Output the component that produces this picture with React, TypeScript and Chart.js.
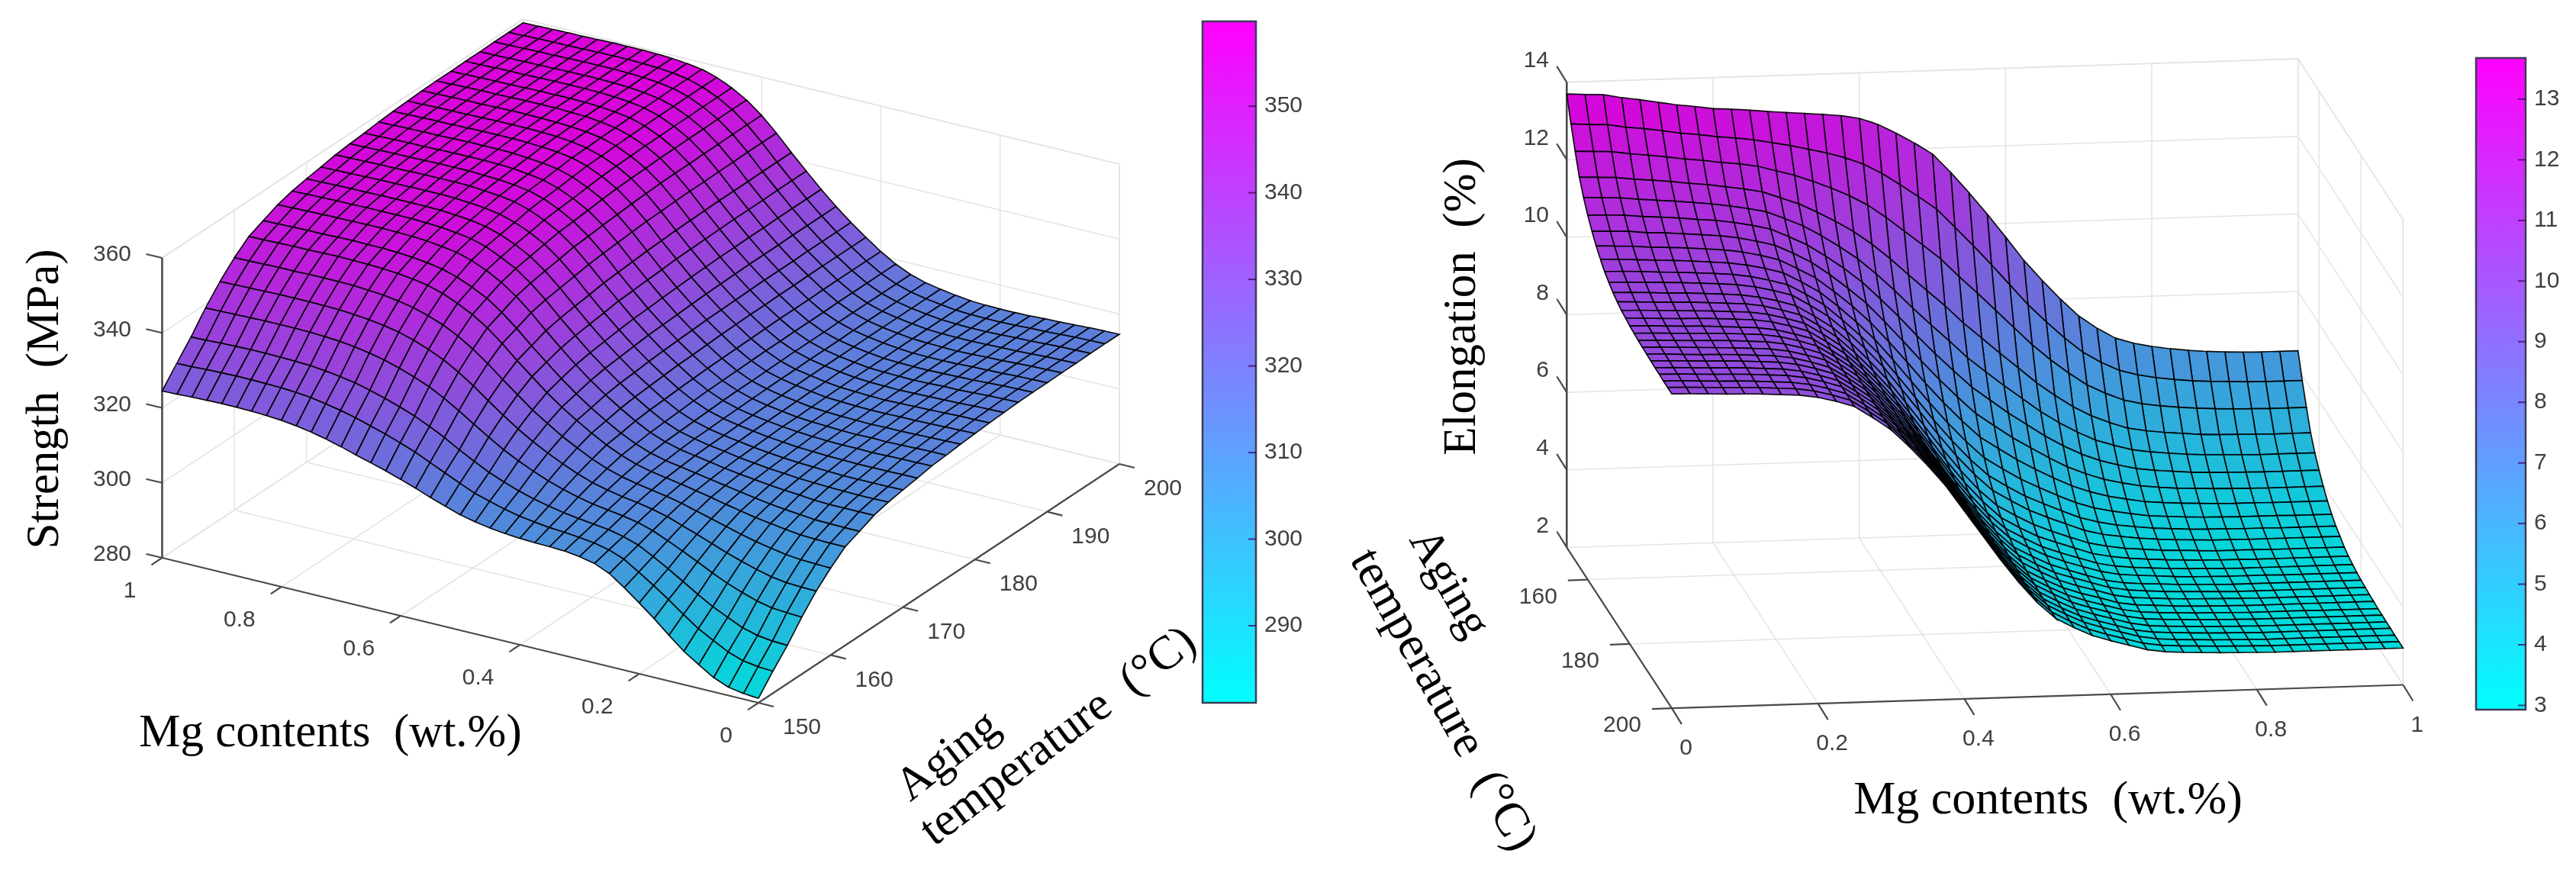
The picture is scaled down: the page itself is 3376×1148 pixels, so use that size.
import React, { useEffect, useRef } from "react";
import { Chart, registerables } from "chart.js";

Chart.register(...registerables);

// ---- values ----
const mgContents = [0,0.025,0.05,0.075,0.1,0.125,0.15,0.175,0.2,0.225,0.25,0.275,0.3,0.325,0.35,0.375,0.4,0.425,0.45,0.475,0.5,0.525,0.55,0.575,0.6,0.625,0.65,0.675,0.7,0.725,0.75,0.775,0.8,0.825,0.85,0.875,0.9,0.925,0.95,0.975,1];
const agingTemps = [150,152,154,156,158,160,162,164,166,168,170,172,174,176,178,180,182,184,186,188,190,192,194,196,198,200];

// one row per aging temperature, one column per Mg content
const strengthByTemp = [
[281.2,281.5,282.2,283.8,286.3,288.9,292.2,295.7,298.9,302.0,304.8,306.5,307.4,307.9,308.1,308.2,308.4,308.7,309.2,309.9,310.8,312.1,313.5,315.0,316.4,317.7,318.9,320.0,321.2,322.3,323.2,323.9,324.4,324.7,324.9,325.0,325.0,324.9,324.8,324.6,324.5],
[285.9,286.1,286.7,288.1,290.2,292.4,295.2,298.2,301.0,303.6,306.1,307.6,308.5,309.0,309.4,309.7,310.2,310.8,311.7,312.8,314.0,315.7,317.5,319.3,321.1,322.6,324.0,325.2,326.4,327.4,328.2,328.9,329.3,329.6,329.7,329.8,329.8,329.7,329.6,329.4,329.3],
[290.2,290.4,290.9,292.0,293.8,295.7,298.0,300.5,302.9,305.2,307.3,308.6,309.5,310.0,310.5,311.1,311.9,312.8,314.0,315.4,317.0,319.0,321.1,323.4,325.4,327.2,328.7,330.0,331.2,332.2,332.9,333.5,333.9,334.1,334.2,334.3,334.3,334.2,334.1,333.9,333.8],
[295.2,295.4,295.7,296.6,297.9,299.4,301.2,303.2,305.1,306.9,308.6,309.8,310.6,311.2,311.8,312.7,313.8,315.1,316.7,318.5,320.5,322.9,325.4,328.0,330.4,332.5,334.1,335.5,336.7,337.6,338.3,338.8,339.1,339.3,339.4,339.4,339.4,339.3,339.2,339.1,339.0],
[299.6,299.7,299.9,300.5,301.5,302.7,304.0,305.5,307.0,308.4,309.8,310.8,311.6,312.2,313.0,314.0,315.4,317.1,319.0,321.1,323.5,326.2,329.1,332.1,334.8,337.1,338.9,340.4,341.6,342.4,343.0,343.4,343.7,343.8,343.9,343.9,343.9,343.8,343.7,343.6,343.5],
[303.2,303.3,303.5,303.9,304.6,305.4,306.4,307.5,308.6,309.7,310.8,311.7,312.4,313.1,314.0,315.2,316.8,318.8,320.9,323.4,326.0,329.1,332.2,335.5,338.4,340.9,342.9,344.4,345.6,346.4,347.0,347.3,347.6,347.7,347.7,347.7,347.6,347.6,347.5,347.4,347.3],
[306.3,306.3,306.4,306.6,307.1,307.7,308.3,309.1,309.9,310.8,311.6,312.4,313.1,313.8,314.8,316.2,318.0,320.2,322.6,325.2,328.1,331.4,334.7,338.3,341.5,344.1,346.1,347.8,349.0,349.7,350.2,350.5,350.7,350.8,350.9,350.8,350.7,350.7,350.6,350.5,350.4],
[307.9,307.9,308.0,308.1,308.5,308.9,309.4,310.0,310.7,311.4,312.1,312.8,313.5,314.2,315.2,316.7,318.6,320.9,323.4,326.2,329.3,332.7,336.1,339.8,343.1,345.9,347.9,349.6,350.8,351.5,352.0,352.3,352.5,352.5,352.6,352.5,352.4,352.4,352.3,352.2,352.1],
[309.6,309.6,309.6,309.6,309.8,310.2,310.5,310.9,311.4,311.9,312.5,313.2,313.9,314.6,315.7,317.2,319.3,321.7,324.3,327.2,330.4,333.9,337.6,341.4,344.8,347.6,349.8,351.5,352.7,353.3,353.8,354.1,354.2,354.3,354.3,354.2,354.2,354.1,354.0,353.9,353.8],
[310.6,310.5,310.5,310.6,310.7,310.9,311.1,311.5,311.8,312.3,312.8,313.5,314.1,314.9,315.9,317.5,319.7,322.2,324.9,327.9,331.1,334.7,338.4,342.3,345.8,348.7,350.8,352.6,353.8,354.4,354.9,355.1,355.3,355.3,355.3,355.3,355.2,355.2,355.1,355.0,354.9],
[311.3,311.2,311.2,311.2,311.2,311.4,311.6,311.8,312.1,312.5,313.0,313.6,314.2,315.0,316.1,317.7,319.9,322.5,325.2,328.3,331.6,335.2,339.0,342.9,346.5,349.4,351.6,353.3,354.5,355.2,355.6,355.9,356.0,356.0,356.0,356.0,355.9,355.9,355.8,355.7,355.6],
[311.9,311.9,311.8,311.8,311.8,311.9,312.0,312.2,312.4,312.8,313.2,313.8,314.4,315.2,316.3,318.0,320.2,322.8,325.6,328.7,332.1,335.7,339.5,343.5,347.1,350.1,352.3,354.0,355.2,355.9,356.3,356.6,356.7,356.7,356.7,356.6,356.6,356.5,356.4,356.3,356.2],
[312.6,312.5,312.5,312.4,312.3,312.4,312.4,312.5,312.7,313.0,313.4,313.9,314.5,315.3,316.5,318.2,320.4,323.1,325.9,329.1,332.5,336.3,340.1,344.1,347.8,350.8,353.0,354.8,356.0,356.6,357.0,357.3,357.4,357.4,357.4,357.3,357.2,357.2,357.1,357.0,356.9],
[312.9,312.9,312.8,312.7,312.6,312.7,312.6,312.7,312.9,313.1,313.4,314.0,314.6,315.4,316.6,318.3,320.6,323.2,326.1,329.3,332.7,336.5,340.4,344.5,348.1,351.1,353.4,355.2,356.4,357.0,357.4,357.6,357.8,357.8,357.8,357.7,357.6,357.6,357.5,357.4,357.3],
[313.3,313.2,313.1,313.0,312.9,312.9,312.8,312.9,313.0,313.2,313.5,314.1,314.7,315.5,316.6,318.4,320.7,323.4,326.3,329.5,333.0,336.8,340.7,344.8,348.5,351.5,353.7,355.5,356.7,357.3,357.8,358.0,358.1,358.1,358.1,358.0,357.9,357.9,357.8,357.7,357.6],
[313.6,313.5,313.4,313.3,313.2,313.2,313.1,313.1,313.2,313.4,313.6,314.2,314.8,315.6,316.7,318.5,320.8,323.6,326.5,329.7,333.2,337.0,341.0,345.1,348.8,351.9,354.1,355.9,357.1,357.7,358.1,358.4,358.5,358.5,358.5,358.4,358.3,358.3,358.2,358.1,358.0],
[313.9,313.8,313.8,313.6,313.5,313.4,313.3,313.2,313.3,313.5,313.7,314.2,314.9,315.6,316.8,318.6,320.9,323.7,326.6,329.9,333.4,337.3,341.2,345.4,349.1,352.2,354.5,356.3,357.5,358.1,358.5,358.7,358.8,358.8,358.8,358.7,358.6,358.6,358.5,358.4,358.3],
[314.1,314.0,313.9,313.7,313.6,313.5,313.4,313.3,313.4,313.5,313.8,314.3,314.9,315.7,316.9,318.6,321.0,323.8,326.7,330.0,333.6,337.4,341.4,345.5,349.3,352.4,354.7,356.4,357.6,358.3,358.7,358.9,359.0,359.0,359.0,358.9,358.8,358.8,358.7,358.6,358.5],
[314.3,314.2,314.1,313.9,313.7,313.7,313.5,313.4,313.5,313.6,313.8,314.3,314.9,315.7,316.9,318.7,321.1,323.8,326.8,330.1,333.7,337.5,341.5,345.7,349.5,352.5,354.8,356.6,357.8,358.4,358.8,359.0,359.1,359.2,359.2,359.1,359.0,359.0,358.9,358.8,358.7],
[314.4,314.3,314.2,314.0,313.8,313.7,313.6,313.5,313.5,313.6,313.8,314.3,314.9,315.7,316.9,318.7,321.1,323.9,326.9,330.2,333.7,337.6,341.6,345.8,349.6,352.7,355.0,356.7,357.9,358.5,359.0,359.1,359.3,359.3,359.3,359.2,359.1,359.1,359.0,358.9,358.8],
[314.4,314.3,314.2,314.0,313.9,313.8,313.6,313.5,313.5,313.6,313.9,314.4,315.0,315.8,317.0,318.7,321.1,323.9,326.9,330.2,333.8,337.7,341.7,345.8,349.6,352.7,355.0,356.8,358.0,358.6,359.0,359.2,359.3,359.3,359.3,359.2,359.1,359.1,359.0,358.9,358.8],
[314.5,314.4,314.3,314.1,313.9,313.8,313.6,313.5,313.6,313.7,313.9,314.4,315.0,315.8,317.0,318.8,321.2,324.0,326.9,330.2,333.8,337.7,341.7,345.9,349.7,352.8,355.1,356.9,358.1,358.7,359.1,359.3,359.4,359.4,359.4,359.3,359.2,359.2,359.1,359.0,358.9],
[314.5,314.4,314.3,314.1,313.9,313.8,313.7,313.6,313.6,313.7,313.9,314.4,315.0,315.8,317.0,318.8,321.2,324.0,327.0,330.3,333.9,337.7,341.7,345.9,349.7,352.8,355.1,356.9,358.1,358.7,359.1,359.3,359.4,359.4,359.4,359.3,359.2,359.2,359.1,359.0,358.9],
[314.6,314.5,314.4,314.2,314.0,313.9,313.7,313.6,313.6,313.7,313.9,314.4,315.0,315.8,317.0,318.8,321.2,324.0,327.0,330.3,333.9,337.8,341.8,346.0,349.8,352.9,355.2,357.0,358.2,358.8,359.2,359.4,359.5,359.5,359.5,359.4,359.3,359.3,359.2,359.1,359.0],
[314.6,314.5,314.4,314.2,314.0,313.9,313.7,313.6,313.6,313.7,313.9,314.4,315.0,315.8,317.0,318.8,321.2,324.0,327.0,330.3,333.9,337.8,341.8,346.0,349.8,352.9,355.2,357.0,358.2,358.8,359.2,359.4,359.5,359.5,359.5,359.4,359.3,359.3,359.2,359.1,359.0],
[314.6,314.5,314.4,314.2,314.0,313.9,313.7,313.6,313.6,313.7,313.9,314.4,315.0,315.8,317.0,318.8,321.2,324.0,327.0,330.3,333.9,337.8,341.8,346.0,349.8,352.9,355.2,357.0,358.2,358.8,359.2,359.4,359.5,359.5,359.5,359.4,359.3,359.3,359.2,359.1,359.0],
];

const elongationByTemp = [
[13.70,13.67,13.65,13.56,13.49,13.41,13.33,13.27,13.20,13.17,13.13,13.08,13.04,13.00,12.96,12.91,12.83,12.66,12.42,12.15,11.85,11.36,10.82,10.25,9.65,9.03,8.50,8.00,7.55,7.22,6.95,6.80,6.70,6.63,6.57,6.53,6.50,6.48,6.47,6.47,6.47],
[13.09,13.06,13.04,12.96,12.91,12.84,12.76,12.71,12.64,12.59,12.53,12.44,12.35,12.24,12.13,11.99,11.81,11.56,11.25,10.93,10.59,10.11,9.62,9.11,8.58,8.05,7.59,7.16,6.78,6.50,6.28,6.15,6.06,6.00,5.95,5.92,5.90,5.88,5.87,5.87,5.87],
[12.55,12.53,12.51,12.44,12.39,12.33,12.26,12.21,12.14,12.09,12.01,11.88,11.75,11.58,11.39,11.18,10.92,10.59,10.22,9.85,9.47,9.00,8.56,8.10,7.64,7.18,6.78,6.42,6.10,5.87,5.68,5.57,5.50,5.45,5.41,5.38,5.36,5.35,5.34,5.34,5.34],
[12.05,12.03,12.01,11.95,11.91,11.86,11.80,11.75,11.68,11.61,11.52,11.35,11.18,10.95,10.70,10.42,10.08,9.69,9.26,8.84,8.43,7.97,7.57,7.16,6.77,6.37,6.03,5.72,5.47,5.28,5.12,5.04,4.98,4.94,4.90,4.88,4.87,4.86,4.85,4.85,4.85],
[11.69,11.67,11.65,11.60,11.56,11.52,11.47,11.42,11.35,11.27,11.17,10.98,10.78,10.51,10.21,9.88,9.48,9.04,8.57,8.12,7.69,7.24,6.86,6.49,6.14,5.79,5.49,5.23,5.01,4.86,4.73,4.66,4.61,4.57,4.54,4.53,4.51,4.50,4.50,4.50,4.50],
[11.40,11.39,11.37,11.32,11.29,11.25,11.20,11.16,11.09,11.00,10.89,10.68,10.45,10.15,9.82,9.45,9.00,8.53,8.02,7.54,7.09,6.65,6.30,5.95,5.64,5.33,5.06,4.83,4.65,4.52,4.41,4.35,4.31,4.27,4.25,4.24,4.23,4.22,4.22,4.22,4.22],
[11.15,11.14,11.12,11.07,11.05,11.01,10.97,10.93,10.86,10.76,10.64,10.42,10.17,9.84,9.47,9.07,8.58,8.07,7.54,7.04,6.57,6.13,5.80,5.48,5.20,4.93,4.68,4.49,4.33,4.22,4.13,4.08,4.04,4.02,4.00,3.99,3.98,3.97,3.97,3.97,3.97],
[10.94,10.92,10.90,10.86,10.84,10.81,10.77,10.73,10.66,10.56,10.43,10.19,9.93,9.57,9.18,8.74,8.23,7.69,7.13,6.61,6.13,5.69,5.38,5.08,4.82,4.58,4.36,4.19,4.06,3.97,3.89,3.85,3.82,3.80,3.78,3.77,3.77,3.76,3.76,3.76,3.76],
[10.76,10.74,10.72,10.69,10.67,10.64,10.60,10.56,10.49,10.39,10.26,10.01,9.73,9.35,8.93,8.47,7.93,7.36,6.79,6.25,5.76,5.32,5.02,4.74,4.51,4.29,4.09,3.94,3.84,3.76,3.69,3.66,3.63,3.61,3.60,3.59,3.59,3.59,3.58,3.58,3.58],
[10.61,10.60,10.58,10.55,10.53,10.50,10.47,10.43,10.36,10.25,10.12,9.86,9.57,9.17,8.74,8.26,7.69,7.10,6.51,5.96,5.46,5.03,4.74,4.47,4.26,4.06,3.87,3.74,3.65,3.59,3.54,3.51,3.48,3.47,3.46,3.45,3.45,3.44,3.44,3.44,3.44],
[10.50,10.49,10.47,10.45,10.43,10.40,10.37,10.33,10.26,10.15,10.02,9.74,9.44,9.04,8.59,8.10,7.51,6.91,6.31,5.74,5.24,4.81,4.53,4.27,4.07,3.89,3.71,3.59,3.52,3.46,3.42,3.39,3.37,3.35,3.35,3.34,3.34,3.34,3.34,3.34,3.34],
[10.40,10.39,10.37,10.34,10.33,10.30,10.27,10.23,10.16,10.05,9.91,9.63,9.32,8.91,8.44,7.93,7.33,6.72,6.10,5.53,5.01,4.59,4.32,4.07,3.88,3.71,3.55,3.45,3.38,3.34,3.30,3.28,3.26,3.24,3.24,3.24,3.23,3.23,3.23,3.23,3.23],
[10.33,10.31,10.29,10.27,10.26,10.23,10.20,10.17,10.10,9.98,9.84,9.56,9.24,8.82,8.34,7.82,7.21,6.59,5.96,5.38,4.87,4.44,4.17,3.93,3.76,3.60,3.44,3.35,3.29,3.25,3.22,3.20,3.18,3.17,3.17,3.16,3.16,3.16,3.16,3.16,3.16],
[10.27,10.26,10.24,10.22,10.20,10.18,10.15,10.12,10.05,9.93,9.79,9.50,9.18,8.75,8.27,7.74,7.12,6.49,5.86,5.27,4.75,4.33,4.07,3.83,3.66,3.51,3.36,3.27,3.22,3.19,3.16,3.14,3.13,3.12,3.11,3.11,3.11,3.11,3.11,3.11,3.11],
[10.24,10.22,10.20,10.18,10.17,10.15,10.12,10.09,10.02,9.90,9.75,9.46,9.14,8.71,8.22,7.69,7.06,6.43,5.79,5.20,4.68,4.26,4.00,3.77,3.60,3.45,3.31,3.22,3.18,3.15,3.12,3.10,3.09,3.08,3.08,3.08,3.07,3.07,3.07,3.07,3.07],
[10.20,10.19,10.17,10.15,10.14,10.11,10.08,10.05,9.98,9.86,9.72,9.42,9.10,8.66,8.17,7.64,7.00,6.36,5.72,5.13,4.61,4.18,3.93,3.70,3.54,3.39,3.25,3.17,3.13,3.11,3.08,3.07,3.05,3.04,3.04,3.04,3.04,3.04,3.04,3.04,3.04],
[10.18,10.17,10.15,10.13,10.12,10.10,10.07,10.04,9.97,9.85,9.70,9.41,9.08,8.64,8.15,7.61,6.97,6.33,5.69,5.09,4.57,4.15,3.89,3.66,3.51,3.37,3.23,3.15,3.11,3.08,3.06,3.05,3.03,3.02,3.02,3.02,3.02,3.02,3.02,3.02,3.02],
[10.16,10.15,10.13,10.11,10.10,10.08,10.05,10.02,9.95,9.83,9.68,9.39,9.06,8.62,8.12,7.58,6.94,6.30,5.65,5.06,4.53,4.11,3.86,3.63,3.47,3.34,3.20,3.12,3.09,3.06,3.04,3.03,3.02,3.01,3.00,3.00,3.00,3.00,3.00,3.00,3.00],
[10.15,10.14,10.12,10.10,10.08,10.06,10.03,10.00,9.93,9.81,9.67,9.37,9.04,8.59,8.10,7.55,6.91,6.26,5.62,5.02,4.49,4.07,3.82,3.60,3.44,3.31,3.17,3.10,3.07,3.04,3.02,3.01,3.00,2.99,2.99,2.99,2.99,2.99,2.99,2.99,2.99],
[10.14,10.13,10.10,10.08,10.07,10.05,10.02,9.99,9.92,9.80,9.65,9.36,9.03,8.58,8.08,7.54,6.89,6.25,5.60,5.00,4.47,4.05,3.80,3.58,3.42,3.29,3.16,3.08,3.05,3.03,3.01,3.00,2.99,2.98,2.98,2.98,2.98,2.97,2.97,2.97,2.97],
[10.13,10.12,10.10,10.08,10.07,10.05,10.02,9.99,9.92,9.80,9.65,9.35,9.02,8.57,8.07,7.53,6.88,6.23,5.58,4.99,4.46,4.04,3.79,3.56,3.41,3.28,3.15,3.07,3.04,3.02,3.00,2.99,2.98,2.97,2.97,2.97,2.97,2.97,2.97,2.97,2.97],
[10.12,10.11,10.09,10.07,10.06,10.04,10.01,9.98,9.91,9.79,9.64,9.34,9.01,8.56,8.06,7.52,6.87,6.22,5.57,4.97,4.44,4.02,3.77,3.55,3.40,3.27,3.14,3.06,3.03,3.01,2.99,2.98,2.97,2.96,2.96,2.96,2.96,2.96,2.96,2.96,2.96],
[10.12,10.11,10.09,10.07,10.06,10.04,10.01,9.98,9.91,9.79,9.64,9.34,9.01,8.56,8.06,7.51,6.86,6.21,5.56,4.96,4.43,4.01,3.76,3.54,3.39,3.26,3.13,3.06,3.03,3.01,2.99,2.98,2.97,2.96,2.96,2.96,2.96,2.96,2.96,2.96,2.96],
[10.11,10.10,10.08,10.06,10.05,10.03,10.00,9.97,9.90,9.78,9.63,9.33,9.00,8.55,8.05,7.51,6.86,6.21,5.56,4.96,4.43,4.01,3.76,3.54,3.39,3.26,3.13,3.05,3.02,3.00,2.98,2.97,2.96,2.95,2.95,2.95,2.95,2.95,2.95,2.95,2.95],
[10.11,10.10,10.08,10.06,10.05,10.03,10.00,9.97,9.90,9.78,9.63,9.33,9.00,8.55,8.05,7.50,6.85,6.20,5.55,4.95,4.42,4.00,3.75,3.53,3.38,3.25,3.12,3.05,3.02,3.00,2.98,2.97,2.96,2.95,2.95,2.95,2.95,2.95,2.95,2.95,2.95],
[10.11,10.10,10.08,10.06,10.05,10.03,10.00,9.97,9.90,9.78,9.63,9.33,9.00,8.55,8.05,7.50,6.85,6.20,5.55,4.95,4.42,4.00,3.75,3.53,3.38,3.25,3.12,3.05,3.02,3.00,2.98,2.97,2.96,2.95,2.95,2.95,2.95,2.95,2.95,2.95,2.95],
];

const mgTicks = [0, 0.2, 0.4, 0.6, 0.8, 1];
const strengthTempTicks = [150, 160, 170, 180, 190, 200];
const strengthTicks = [280, 300, 320, 340, 360];
const elongationTempTicks = [160, 180, 200];
const elongationTicks = [2, 4, 6, 8, 10, 12, 14];
const strengthBarTicks = [290, 300, 310, 320, 330, 340, 350];
const elongationBarTicks = [3, 4, 5, 6, 7, 8, 9, 10, 11, 12, 13];
const strengthRange = [281.1, 359.8];
const elongationRange = [2.93, 13.68];

// ---- view geometry of the two panels ----
const TICK_FONT = '30px "Liberation Sans"';
const TITLE_FONT = (s: number) => `${s}px "Liberation Serif"`;
const TICK_COLOR = "#404040";
const GRID = "#e4e4e4";
const AXIS = "#4a4a4a";
// The reference mesh is about twice as fine: its black lines darken the cells more than this grid's do.
const MESH_SHADE = 0.86;

type View = {
  left: number; right: number; origin: number[]; mg: number[]; temp: number[]; zUnit: number;
  zMin: number; zMax: number; colors: number[];
};

const leftView: View = { left: 0, right: 1740, origin: [994, 921], mg: [-781.5, -190], temp: [473, -313], zUnit: 4.9125, zMin: 280, zMax: 360, colors: strengthRange };
const rightView: View = { left: 1740, right: 3376, origin: [2053.3, 717.4], mg: [958.4, -30.7], temp: [137.7, 210.8], zUnit: 50.8, zMin: 2, zMax: 14, colors: elongationRange };

const project = (v: View, mg: number, temp: number, z: number) => {
  const t = (temp - 150) / 50;
  return {
    x: v.origin[0] + mg * v.mg[0] + t * v.temp[0],
    y: v.origin[1] + mg * v.mg[1] + t * v.temp[1] - (z - v.zMin) * v.zUnit,
  };
};

const cool = (f: number) => {
  const c = Math.max(0, Math.min(1, f));
  return `rgb(${Math.round(255 * c * MESH_SHADE)},${Math.round(255 * (1 - c) * MESH_SHADE)},${Math.round(255 * MESH_SHADE)})`;
};

const lineSet = (points: { x: number; y: number }[], color: string, width: number) => ({
  type: "scatter", data: points, showLine: true, pointRadius: 0, borderColor: color, borderWidth: width,
  fill: false, tension: 0.000001, parsing: false,
});

// datasets are given nearest first: Chart.js paints the first dataset last
const surfaceSets = (v: View, grid: number[][], farTempFirst: boolean) => {
  const out: any[] = [];
  const rows = agingTemps.map((_, i) => i).slice(0, -1);
  const rowOrder = farTempFirst ? rows : [...rows].reverse();
  for (const r of rowOrder) {
    for (let c = mgContents.length - 2; c >= 0; c--) {
      const corners = [[r, c], [r, c + 1], [r + 1, c + 1], [r + 1, c], [r, c]];
      const pts = corners.map(([a, b]) => project(v, mgContents[b], agingTemps[a], grid[a][b]));
      const mean = (grid[r][c] + grid[r][c + 1] + grid[r + 1][c] + grid[r + 1][c + 1]) / 4;
      out.push({
        type: "scatter", data: pts, showLine: true, pointRadius: 0, parsing: false,
        borderColor: "rgba(0,0,0,0.92)", borderWidth: 1.7, tension: 0.000001,
        fill: "shape", backgroundColor: cool((mean - v.colors[0]) / (v.colors[1] - v.colors[0])),
      });
    }
  }
  return out.reverse();
};

const boxSets = (v: View, spec: { wallMg: number; wallTemp: number; gridTemps: number[]; zTicks: number[] }) => {
  const out: any[] = [];
  const { zMin, zMax } = v;
  for (const m of mgTicks) {
    out.push(lineSet([project(v, m, 150, zMin), project(v, m, 200, zMin)], GRID, 1.5));
    out.push(lineSet([project(v, m, spec.wallTemp, zMin), project(v, m, spec.wallTemp, zMax)], GRID, 1.5));
  }
  for (const t of spec.gridTemps) {
    out.push(lineSet([project(v, 0, t, zMin), project(v, 1, t, zMin)], GRID, 1.5));
    out.push(lineSet([project(v, spec.wallMg, t, zMin), project(v, spec.wallMg, t, zMax)], GRID, 1.5));
  }
  for (const z of spec.zTicks) {
    out.push(lineSet([project(v, spec.wallMg, 150, z), project(v, spec.wallMg, 200, z)], GRID, 1.5));
    out.push(lineSet([project(v, 0, spec.wallTemp, z), project(v, 1, spec.wallTemp, z)], GRID, 1.5));
  }
  return out;
};

const axisSet = (a: { x: number; y: number }, b: { x: number; y: number }, w = 2.2) => lineSet([a, b], AXIS, w);

type Label = { text: string; x: number; y: number; font: string; color: string; align: CanvasTextAlign; angle: number };

const labelPlugin = (labels: Label[]) => ({
  id: "panelLabels",
  afterDraw(chart: any) {
    const { ctx, scales } = chart;
    for (const l of labels) {
      ctx.save();
      ctx.translate(scales.x.getPixelForValue(l.x), scales.y.getPixelForValue(l.y));
      ctx.rotate((l.angle * Math.PI) / 180);
      ctx.font = l.font;
      ctx.fillStyle = l.color;
      ctx.textAlign = l.align;
      ctx.textBaseline = "middle";
      ctx.fillText(l.text, 0, 0);
      ctx.restore();
    }
  },
});

const tick = (text: string, x: number, y: number, align: CanvasTextAlign = "center"): Label => ({ text, x, y, font: TICK_FONT, color: TICK_COLOR, align, angle: 0 });
const title = (text: string, x: number, y: number, size: number, angle = 0): Label => ({ text, x, y, font: TITLE_FONT(size), color: "#000000", align: "center", angle });

const buildLeft = () => {
  const v = leftView;
  const sets: any[] = surfaceSets(v, strengthByTemp, false);
  const labels: Label[] = [];
  const axes: any[] = [
    axisSet(project(v, 1, 150, 280), project(v, 1, 150, 360), 2.6),
    axisSet(project(v, 1, 150, 280), project(v, 0, 150, 280)),
    axisSet(project(v, 0, 150, 280), project(v, 0, 200, 280)),
  ];
  for (const z of strengthTicks) {
    const p = project(v, 1, 150, z);
    axes.push(axisSet(p, { x: p.x - 21, y: p.y - 5 }));
    labels.push(tick(String(z), 172, p.y - 4, "right"));
  }
  for (const m of mgTicks) {
    const p = project(v, m, 150, 280);
    axes.push(axisSet(p, { x: p.x - 14, y: p.y + 9.4 }));
    labels.push(tick(String(m), p.x - 34, p.y + 44, "right"));
  }
  for (const t of strengthTempTicks) {
    const p = project(v, 0, t, 280);
    axes.push(axisSet(p, { x: p.x + 20, y: p.y + 5 }));
    labels.push(tick(String(t), p.x + 57, p.y + 33));
  }
  labels.push(title("Strength  (MPa)", 60, 523, 61, -90));
  labels.push(title("Mg contents  (wt.%)", 433, 962, 61));
  labels.push(title("Aging", 1243, 992, 61, -38));
  labels.push(title("temperature  (°C)", 1388, 966, 62, -37));
  const grid = boxSets(v, { wallMg: 1, wallTemp: 200, gridTemps: strengthTempTicks.slice(1), zTicks: strengthTicks });
  grid.push(lineSet([project(v, 1, 150, 360), project(v, 1, 200, 360), project(v, 0, 200, 360), project(v, 0, 200, 280)], GRID, 1.5));
  return { sets: [...sets, ...axes, ...grid], labels };
};

const buildRight = () => {
  const v = rightView;
  const sets: any[] = surfaceSets(v, elongationByTemp, true);
  const labels: Label[] = [];
  const axes: any[] = [
    axisSet(project(v, 0, 150, 2), project(v, 0, 150, 14), 2.6),
    axisSet(project(v, 0, 150, 2), project(v, 0, 200, 2)),
    axisSet(project(v, 0, 200, 2), project(v, 1, 200, 2)),
  ];
  for (const z of elongationTicks) {
    const p = project(v, 0, 150, z);
    axes.push(axisSet(p, { x: p.x - 13, y: p.y - 21 }));
    labels.push(tick(String(z), 2030, p.y - 28, "right"));
  }
  for (const m of mgTicks) {
    const p = project(v, m, 200, 2);
    axes.push(axisSet(p, { x: p.x + 13, y: p.y + 21 }));
    labels.push(tick(String(m), p.x + 18.5, p.y + 53));
  }
  for (const t of elongationTempTicks) {
    const p = project(v, 0, t, 2);
    axes.push(axisSet(p, { x: p.x - 26, y: p.y + 1 }));
    labels.push(tick(String(t), p.x - 65, p.y + 23));
  }
  labels.push(title("Elongation  (%)", 1917, 402, 61, -90));
  labels.push(title("Mg contents  (wt.%)", 2684, 1050, 62));
  labels.push(title("Aging", 1898, 765, 61, 60));
  labels.push(title("temperature  (°C)", 1890, 918, 63, 61));
  const grid = boxSets(v, { wallMg: 1, wallTemp: 150, gridTemps: elongationTempTicks, zTicks: elongationTicks });
  grid.push(lineSet([project(v, 0, 150, 14), project(v, 1, 150, 14), project(v, 1, 200, 14), project(v, 1, 200, 2)], GRID, 1.5));
  grid.push(lineSet([project(v, 1, 150, 2), project(v, 1, 150, 14)], GRID, 1.5));
  return { sets: [...sets, ...axes, ...grid], labels };
};

const panelChart = (canvas: HTMLCanvasElement, v: View, built: { sets: any[]; labels: Label[] }) =>
  new Chart(canvas, {
    type: "scatter",
    data: { datasets: built.sets },
    options: {
      responsive: false, animation: false, devicePixelRatio: 1, events: [],
      layout: { padding: 0 },
      elements: { line: { capBezierPoints: false } },
      scales: {
        x: { type: "linear", display: false, min: v.left, max: v.right },
        y: { type: "linear", display: false, min: 0, max: 1148, reverse: true },
      },
      plugins: { legend: { display: false }, tooltip: { enabled: false }, title: { display: false } },
    },
    plugins: [labelPlugin(built.labels)],
  } as any);

const colorbarChart = (canvas: HTMLCanvasElement, range: number[], ticks: number[], label: string) =>
  new Chart(canvas, {
    type: "bar",
    data: {
      labels: [label],
      datasets: [{
        data: [[range[0], range[1]]],
        barPercentage: 1, categoryPercentage: 1, borderWidth: 0,
        backgroundColor: (ctx: any) => {
          const area = ctx.chart.chartArea;
          if (!area) return "#ff00ff";
          const g = ctx.chart.ctx.createLinearGradient(0, area.bottom, 0, area.top);
          g.addColorStop(0, "#00ffff");
          g.addColorStop(1, "#ff00ff");
          return g;
        },
      }],
    },
    options: {
      responsive: false, animation: false, devicePixelRatio: 1, events: [],
      layout: { padding: { top: 20, bottom: 20, left: 2, right: 0 } },
      scales: {
        x: { display: false },
        y: {
          position: "right", min: range[0], max: range[1],
          afterBuildTicks: (s: any) => { s.ticks = ticks.map((value) => ({ value })); },
          afterFit: (s: any) => { s.width = 70; s.paddingTop = 0; s.paddingBottom = 0; },
          grid: { drawOnChartArea: false, drawTicks: false, display: false },
          border: { display: false },
          ticks: { padding: 11, font: { family: "Liberation Sans", size: 30 }, color: TICK_COLOR, autoSkip: false, maxRotation: 0, callback: (v: any) => String(v) },
        },
      },
      plugins: { legend: { display: false }, tooltip: { enabled: false }, title: { display: false } },
    },
    plugins: [{
      id: "barFrame",
      afterDraw(chart: any) {
        const { ctx, chartArea: a, scales } = chart;
        ctx.save();
        ctx.strokeStyle = "#3c3c55";
        ctx.lineWidth = 2.5;
        ctx.strokeRect(a.left, a.top, a.right - a.left, a.bottom - a.top);
        ctx.strokeStyle = "rgba(60,0,90,0.75)";
        ctx.lineWidth = 2;
        for (const t of ticks) {
          const y = scales.y.getPixelForValue(t);
          ctx.beginPath();
          ctx.moveTo(a.right - 10, y);
          ctx.lineTo(a.right, y);
          ctx.stroke();
        }
        ctx.restore();
      },
    }],
  } as any);

const canvasStyle = (left: number, top: number): React.CSSProperties => ({ position: "absolute", left, top, filter: "blur(0.6px)" });

export default function App() {
  const a = useRef<HTMLCanvasElement>(null);
  const b = useRef<HTMLCanvasElement>(null);
  const c = useRef<HTMLCanvasElement>(null);
  const d = useRef<HTMLCanvasElement>(null);
  useEffect(() => {
    const charts = [
      panelChart(a.current!, leftView, buildLeft()),
      panelChart(b.current!, rightView, buildRight()),
      colorbarChart(c.current!, strengthRange, strengthBarTicks, "Strength"),
      colorbarChart(d.current!, elongationRange, elongationBarTicks, "Elongation"),
    ];
    return () => charts.forEach((ch) => ch.destroy());
  }, []);
  return (
    <div style={{ position: "absolute", left: 0, top: 0, width: 3376, height: 1148, background: "#fff", overflow: "hidden" }}>
      <canvas ref={a} width={1740} height={1148} style={canvasStyle(0, 0)} />
      <canvas ref={b} width={1636} height={1148} style={canvasStyle(1740, 0)} />
      <canvas ref={c} width={142} height={933} style={canvasStyle(1574, 8)} />
      <canvas ref={d} width={137} height={894} style={canvasStyle(3243, 56)} />
    </div>
  );
}
